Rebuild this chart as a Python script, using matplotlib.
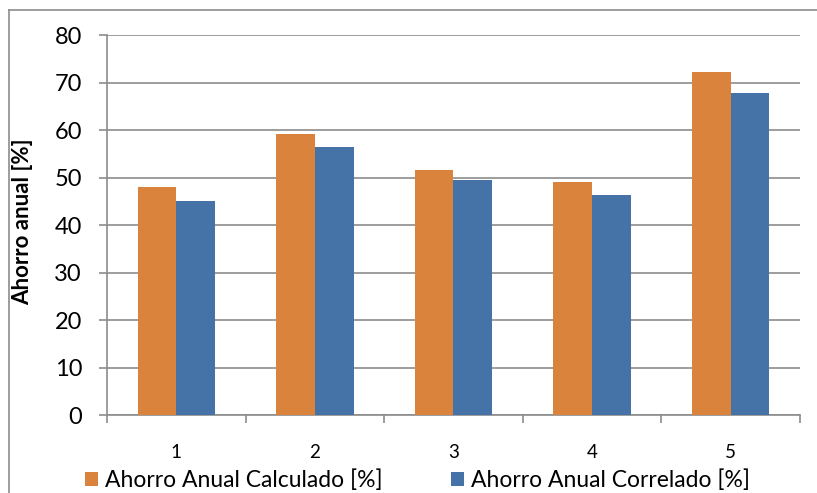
import numpy as np
import matplotlib
matplotlib.use('Agg')
import matplotlib.pyplot as plt
from matplotlib.lines import Line2D

plt.rcParams['font.family'] = ['Lato', 'DejaVu Sans']

categorias = ['1', '2', '3', '4', '5']
calculado = [48.0, 59.1, 51.5, 49.1, 72.3]
correlado = [45.1, 56.4, 49.5, 46.4, 67.7]
nombres = ['Ahorro Anual Calculado [%]', 'Ahorro Anual Correlado [%]']
colores = ['#DA833C', '#4573A7']

fig = plt.figure(figsize=(8.17, 4.93), dpi=100)
ax = fig.add_axes([0.131, 0.158, 0.848, 0.771])

x = np.arange(len(categorias))
w = 0.28
ax.bar(x - w / 2, calculado, w, color=colores[0], label=nombres[0], zorder=3)
ax.bar(x + w / 2, correlado, w, color=colores[1], label=nombres[1], zorder=3)

ax.set_xlim(-0.5, len(categorias) - 0.5)
ax.set_ylim(0, 80)
ax.set_yticks(np.arange(0, 81, 10))
ax.yaxis.grid(True, color='#8c8c8c', linewidth=1.2, zorder=0)

# category ticks sit between the groups, labels in the middle
ax.set_xticks(np.arange(-0.5, len(categorias), 1.0))
ax.set_xticklabels([])
ax.set_xticks(x, minor=True)
ax.set_xticklabels(categorias, minor=True, fontsize=13.5)
ax.tick_params(axis='x', which='minor', length=0, pad=21)
ax.tick_params(axis='x', which='major', length=6, color='#8c8c8c', width=1.2)
ax.tick_params(axis='y', length=6, color='#8c8c8c', width=1.2, labelsize=17, pad=12)

for s in ['top', 'right']:
    ax.spines[s].set_visible(False)
for s in ['left', 'bottom']:
    ax.spines[s].set_color('#8c8c8c')
    ax.spines[s].set_linewidth(1.2)

ax.set_ylabel('Ahorro anual [%]', fontsize=16, fontweight='bold')
ax.yaxis.set_label_coords(-0.107, 0.508)

fig.legend(loc='center', bbox_to_anchor=(0.511, 0.026), ncol=2, frameon=False,
           fontsize=16.5, handlelength=0.57, handleheight=0.57,
           handletextpad=0.3, columnspacing=3.0)

# outer chart border (only left and top are visible in the crop)
fig.add_artist(Line2D([9 / 817, 9 / 817], [0, 1 - 10 / 493], color='#8c8c8c',
                      linewidth=1.2, transform=fig.transFigure))
fig.add_artist(Line2D([9 / 817, 1], [1 - 10 / 493, 1 - 10 / 493], color='#8c8c8c',
                      linewidth=1.2, transform=fig.transFigure))

fig.savefig('out.png', dpi=100)
